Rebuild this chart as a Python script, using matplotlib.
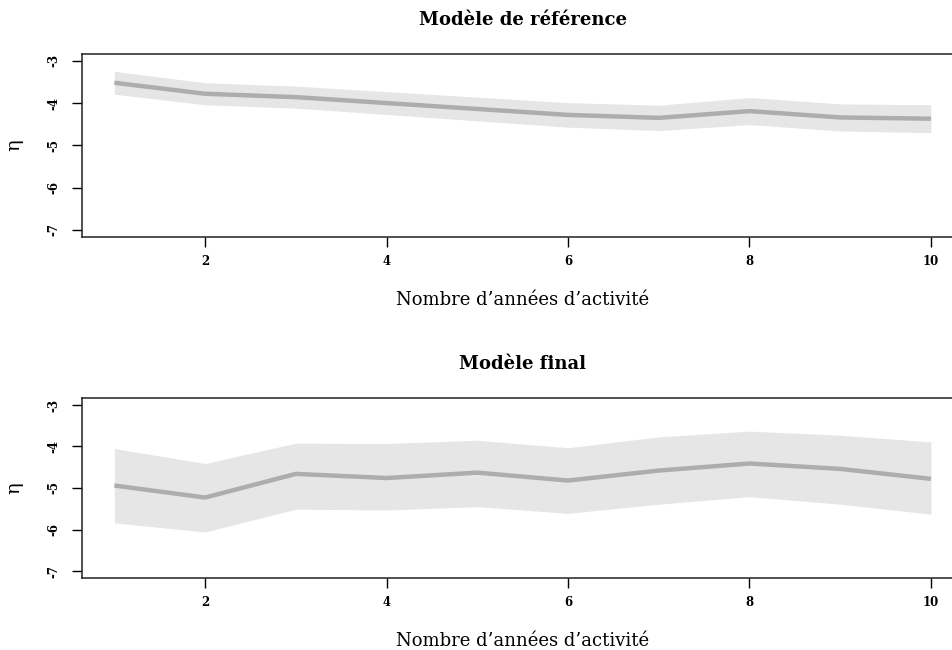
import matplotlib
matplotlib.use("Agg")
import matplotlib.pyplot as plt

plt.rcParams["font.family"] = ["DejaVu Serif"]
plt.rcParams["axes.unicode_minus"] = False

# années d'activité
years = [1, 2, 3, 4, 5, 6, 7, 8, 9, 10]

# Modèle de référence
ref_eta = [-3.52, -3.78, -3.86, -4.00, -4.14, -4.28, -4.35, -4.19, -4.34, -4.37]
ref_low = [-3.79, -4.04, -4.12, -4.27, -4.42, -4.57, -4.65, -4.51, -4.66, -4.70]
ref_high = [-3.25, -3.52, -3.60, -3.73, -3.86, -3.99, -4.05, -3.87, -4.02, -4.04]

# Modèle final
fin_eta = [-4.94, -5.23, -4.66, -4.76, -4.63, -4.82, -4.58, -4.41, -4.54, -4.78]
fin_low = [-5.84, -6.06, -5.51, -5.53, -5.45, -5.61, -5.39, -5.21, -5.39, -5.63]
fin_high = [-4.05, -4.41, -3.92, -3.93, -3.85, -4.03, -3.77, -3.63, -3.73, -3.89]

titles = ["Modèle de référence", "Modèle final"]
xlab = "Nombre d’années d’activité"

fig = plt.figure(figsize=(9.52, 6.5), dpi=100)
W, H = 952, 650
left, right = 81.7, 963.6
boxes = [(54, 236.7), (398.3, 577.7)]
panels = [(ref_eta, ref_low, ref_high), (fin_eta, fin_low, fin_high)]

for (top, bot), (eta, low, high), title in zip(boxes, panels, titles):
    ax = fig.add_axes([left / W, 1 - bot / H, (right - left) / W, (bot - top) / H])
    ax.fill_between(years, low, high, color="#e6e6e6", lw=0)
    ax.plot(years, eta, color="#adadad", lw=3.2, solid_capstyle="butt")
    ax.set_xlim(0.64, 10.36)
    ax.set_ylim(-7.16, -2.84)
    ax.set_xticks([2, 4, 6, 8, 10])
    ax.set_yticks([-7, -6, -5, -4, -3])
    ax.tick_params(direction="out", length=7, width=1, labelsize=8.5, pad=6)
    ax.tick_params(axis="y", labelrotation=90, pad=8)
    for lab in ax.get_xticklabels() + ax.get_yticklabels():
        lab.set_fontweight("bold")
    for lab in ax.get_yticklabels():
        lab.set_va("center")
    for s in ax.spines.values():
        s.set_linewidth(1.1)
        s.set_color("#222222")
    ax.set_title(title, fontsize=13, fontweight="bold", pad=21)
    ax.set_xlabel(xlab, fontsize=13, labelpad=17)
    ax.set_ylabel("η", fontsize=14, labelpad=18)

fig.savefig("out.png", dpi=100)
